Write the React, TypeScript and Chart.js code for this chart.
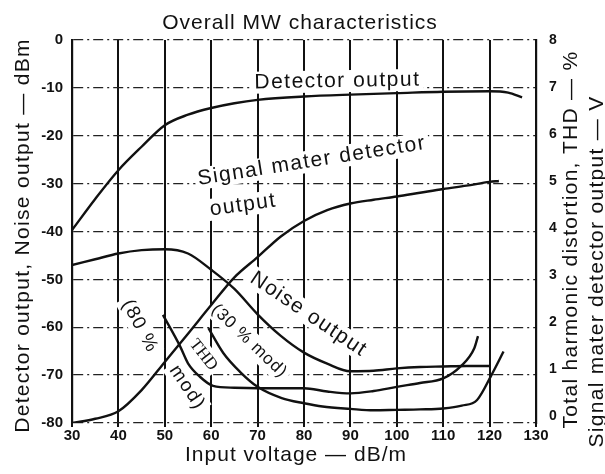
import React, { useEffect, useRef } from "react";
import { Chart, registerables } from "chart.js";

Chart.register(...registerables);

// ---- tick labels ----
const xTicks = [30, 40, 50, 60, 70, 80, 90, 100, 110, 120, 130];
const leftTicks = [0, -10, -20, -30, -40, -50, -60, -70, -80];
const rightTicks = [0, 1, 2, 3, 4, 5, 6, 7, 8];

// ---- Detector output (dBm, left axis) ----
const detectorX = [30, 35, 40, 45, 50, 55, 60, 65, 70, 80, 90, 100, 110, 120, 124, 127];
const detectorY = [-39.7, -33.2, -27.2, -22.3, -17.8, -15.6, -14.2, -13.2, -12.5, -11.8, -11.4, -11.1, -10.8, -10.7, -11.0, -12.0];

// ---- Noise output (dBm, left axis) ----
const noiseX = [30, 35, 40, 45, 50, 55, 60, 65, 70, 75, 80, 85, 90, 95, 100, 105, 110, 115, 120];
const noiseY = [-47.0, -45.8, -44.6, -43.9, -43.7, -44.6, -48.0, -52.0, -57.3, -61.8, -65.3, -67.6, -69.2, -69.1, -68.6, -68.3, -68.2, -68.1, -68.1];

// ---- Signal meter detector output (V, right axis) ----
const signalX = [30, 35, 40, 45, 50, 55, 60, 65, 70, 75, 80, 85, 90, 95, 100, 105, 110, 115, 120, 122];
const signalV = [-0.15, -0.06, 0.1, 0.55, 1.15, 1.75, 2.36, 2.95, 3.38, 3.82, 4.15, 4.38, 4.52, 4.6, 4.67, 4.75, 4.83, 4.9, 4.98, 5.0];

// ---- THD, 80 % mod (%, right axis) ----
const thd80X = [49.6, 53.3, 55, 57.5, 60.4, 65, 70, 75, 80, 85, 90, 95, 100, 105, 110, 113.7, 116.7, 117.5];
const thd80V = [2.15, 1.48, 1.12, 0.84, 0.64, 0.6, 0.59, 0.59, 0.59, 0.52, 0.48, 0.53, 0.62, 0.7, 0.8, 1.05, 1.44, 1.7];

// ---- THD, 30 % mod (%, right axis) ----
const thd30X = [59.4, 62.6, 66.2, 70, 75.2, 80, 84, 90, 95, 100, 105, 110, 114, 117.3, 120.4, 123];
const thd30V = [1.87, 1.34, 0.94, 0.62, 0.38, 0.27, 0.2, 0.15, 0.12, 0.13, 0.14, 0.16, 0.22, 0.34, 0.87, 1.37];

const titleText = "Overall MW characteristics";
const xTitle = "Input voltage \u2014 dB/m";
const leftTitle = "Detector output, Noise output \u2014 dBm";
const rightTitle1 = "Total harmonic distortion, THD \u2014 %";
const rightTitle2 = "Signal mater detector output \u2014 V";

const SANS = "'Liberation Sans', Arial, sans-serif";
const SERIF = "'Liberation Serif', 'DejaVu Serif', serif";

// curve annotations: text, anchor in data units, rotation, font
const curveLabels = [
  { text: "Detector output", x: 87.2, y: -8.6, axis: "y", angle: -1, font: `21px ${SANS}`, spacing: "1.5px" },
  { text: "Signal mater detector", x: 81.7, y: -25.3, axis: "y", angle: -9, font: `21px ${SANS}`, spacing: "1.5px" },
  { text: "output", x: 66.9, y: -34.5, axis: "y", angle: -8, font: `21px ${SANS}`, spacing: "1.5px" },
  { text: "Noise output", x: 81.0, y: -57.3, axis: "y", angle: 34, font: `21px ${SANS}`, spacing: "1.5px" },
  { text: "(30 % mod)", x: 68.2, y: -62.9, axis: "y", angle: 44, font: `17px ${SANS}`, spacing: "1px" },
  { text: "THD", x: 58.3, y: -65.8, axis: "y", angle: 52, font: `17px ${SERIF}`, spacing: "0px" },
  { text: "(80 %", x: 44.6, y: -59.8, axis: "y", angle: 62, font: `19px ${SANS}`, spacing: "1.5px" },
  { text: "mod)", x: 54.8, y: -72.6, axis: "y", angle: 56, font: `19px ${SANS}`, spacing: "1.5px" },
];

function pts(xs: number[], ys: number[]) {
  return xs.map((x, i) => ({ x, y: ys[i] }));
}

function drawRotated(ctx: CanvasRenderingContext2D, text: string, cx: number, cy: number, angleDeg: number, font: string, spacing: string, clear: boolean) {
  ctx.save();
  ctx.translate(cx, cy);
  ctx.rotate((angleDeg * Math.PI) / 180);
  ctx.font = font;
  (ctx as any).letterSpacing = spacing;
  ctx.textAlign = "center";
  ctx.textBaseline = "middle";
  if (clear) {
    const w = ctx.measureText(text).width;
    ctx.fillStyle = "#ffffff";
    ctx.fillRect(-w / 2 - 3, -11, w + 6, 22);
  }
  ctx.fillStyle = "#111111";
  ctx.fillText(text, 0, 0);
  ctx.restore();
}

const labelsPlugin = {
  id: "curveLabels",
  beforeDatasetsDraw(chart: any) {
    const ctx = chart.ctx as CanvasRenderingContext2D;
    const xs = chart.scales.x;
    for (const l of curveLabels) {
      const ys = chart.scales[l.axis];
      drawRotated(ctx, l.text, xs.getPixelForValue(l.x), ys.getPixelForValue(l.y), l.angle, l.font, l.spacing, true);
    }
  },
  afterDraw(chart: any) {
    const ctx = chart.ctx as CanvasRenderingContext2D;
    const a = chart.chartArea;
    const midX = (a.left + a.right) / 2;
    const midY = (a.top + a.bottom) / 2;
    drawRotated(ctx, titleText, midX - 4, a.top - 17, 0, `21px ${SANS}`, "1px", false);
    drawRotated(ctx, xTitle, midX - 8, a.bottom + 32, 0, `21px ${SANS}`, "1px", false);
    drawRotated(ctx, leftTitle, 23, midY + 4, -90, `21px ${SANS}`, "1.3px", false);
    drawRotated(ctx, rightTitle1, a.right + 35, midY + 8, -90, `21px ${SANS}`, "1.3px", false);
    drawRotated(ctx, rightTitle2, a.right + 61, midY + 40, -90, `21px ${SANS}`, "1.3px", false);
  },
};

export default function App() {
  const ref = useRef<HTMLCanvasElement | null>(null);

  useEffect(() => {
    if (!ref.current) return;
    const line = { borderColor: "#111111", borderWidth: 2.4, pointRadius: 0, fill: false, cubicInterpolationMode: "monotone" as const };
    const tickFont = { family: SANS, size: 15, weight: "bold" as const };
    const chart = new Chart(ref.current, {
      type: "line",
      data: {
        datasets: [
          { label: "Detector output", data: pts(detectorX, detectorY), yAxisID: "y", ...line },
          { label: "Signal mater detector output", data: pts(signalX, signalV), yAxisID: "y1", ...line },
          { label: "Noise output", data: pts(noiseX, noiseY), yAxisID: "y", ...line },
          { label: "THD (80 % mod)", data: pts(thd80X, thd80V), yAxisID: "y1", ...line },
          { label: "THD (30 % mod)", data: pts(thd30X, thd30V), yAxisID: "y1", ...line },
        ],
      },
      options: {
        animation: false,
        responsive: false,
        layout: { padding: { top: 40, left: 0, right: 0, bottom: 0 } },
        plugins: { legend: { display: false }, tooltip: { enabled: false }, title: { display: false } },
        scales: {
          x: {
            type: "linear",
            min: 30,
            max: 130,
            afterBuildTicks: (s: any) => { s.ticks = xTicks.map((v) => ({ value: v })); },
            afterFit: (s: any) => { s.height = 51; },
            grid: { color: "#111111", lineWidth: 2, drawTicks: true, tickLength: 4 },
            border: { display: false },
            ticks: { color: "#111111", font: tickFont, padding: 0, maxRotation: 0, autoSkip: false },
          },
          y: {
            position: "left",
            min: -80,
            max: 0,
            afterBuildTicks: (s: any) => { s.ticks = leftTicks.map((v) => ({ value: v })); },
            afterFit: (s: any) => { s.width = 72; },
            grid: { color: "#222222", lineWidth: 1.3, drawTicks: false },
            border: { display: true, color: "#111111", width: 2.2, dash: [10, 4, 2, 4] },
            ticks: { color: "#111111", font: tickFont, padding: 9 },
          },
          y1: {
            position: "right",
            min: -0.15,
            max: 8,
            afterBuildTicks: (s: any) => { s.ticks = rightTicks.map((v) => ({ value: v })); },
            afterFit: (s: any) => { s.width = 69; },
            grid: { display: false },
            border: { display: true, color: "#111111", width: 2.2 },
            ticks: { color: "#111111", font: { family: SANS, size: 14, weight: "bold" as const }, padding: 5 },
          },
        },
      },
      plugins: [labelsPlugin],
    });
    return () => chart.destroy();
  }, []);

  return (
    <div style={{ position: "absolute", left: 0, top: 0, width: 605, height: 474, background: "#ffffff" }}>
      <canvas ref={ref} width={605} height={474} style={{ display: "block" }} />
    </div>
  );
}
